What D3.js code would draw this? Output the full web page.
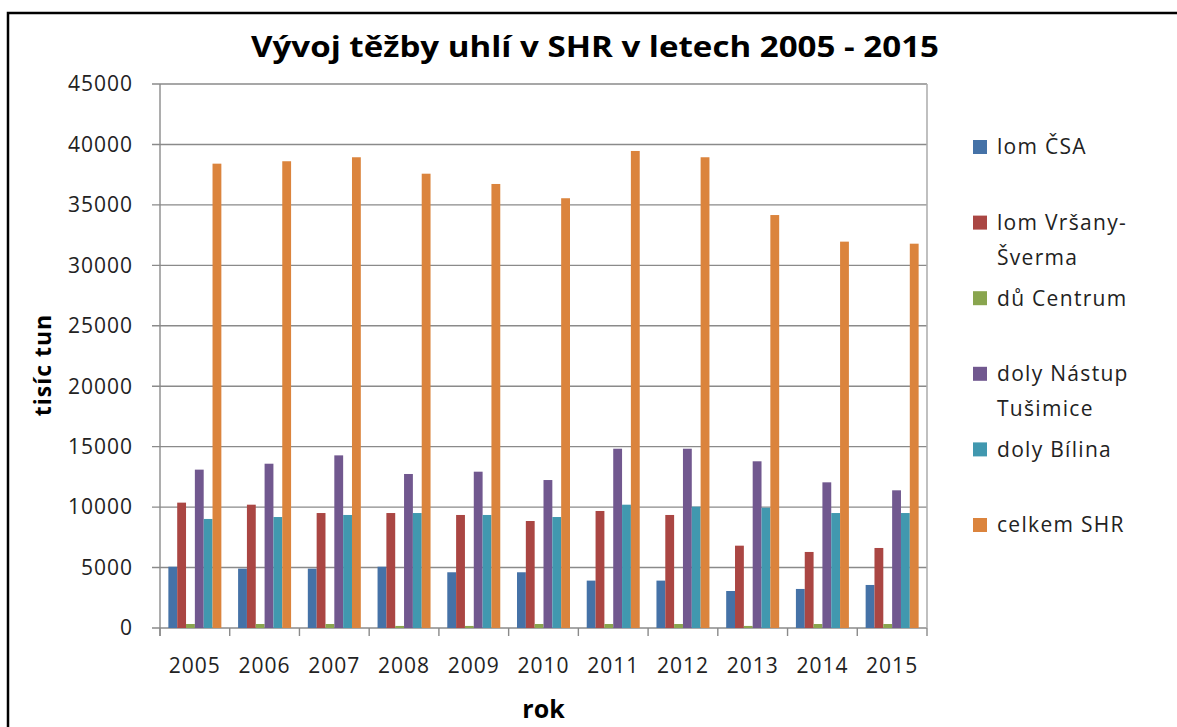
<html lang="cs">
<head>
    <meta charset="UTF-8">
    <title>Vývoj těžby uhlí v SHR</title>
    <script type="text/javascript" src="https://unpkg.com/d3@7/dist/d3.min.js"></script>
    <style>
        body{
            margin:0;
            padding:0;
            background:#fff;
        }
        text {
            font-family: "Open Sans", sans-serif;
            fill: #222;
        }
    </style>
</head>
<body>
<svg width=1177 height=727></svg>

<script>

// data (tisíc tun)
var years = ['2005','2006','2007','2008','2009','2010','2011','2012','2013','2014','2015']
var lomCSA     = [5070, 4910, 4910, 5070, 4610, 4610, 3920, 3920, 3060, 3230, 3560]
var lomVrsany  = [10370, 10200, 9510, 9510, 9350, 8850, 9680, 9350, 6810, 6290, 6620]
var duCentrum  = [330, 330, 330, 170, 170, 330, 330, 330, 170, 330, 330]
var dolyNastup = [13100, 13590, 14280, 12740, 12930, 12240, 14830, 14830, 13790, 12050, 11390]
var dolyBilina = [9020, 9180, 9350, 9510, 9350, 9180, 10200, 10040, 9950, 9510, 9510]
var celkemSHR  = [38410, 38610, 38940, 37580, 36730, 35550, 39460, 38940, 34160, 31960, 31790]

var seriesNames = ['lom ČSA', 'lom Vršany-Šverma', 'dů Centrum', 'doly Nástup Tušimice', 'doly Bílina', 'celkem SHR']
var legendLines = [['lom ČSA'], ['lom Vršany-', 'Šverma'], ['dů Centrum'], ['doly Nástup', 'Tušimice'], ['doly Bílina'], ['celkem SHR']]
var seriesValues = [lomCSA, lomVrsany, duCentrum, dolyNastup, dolyBilina, celkemSHR]
var colors = ['#4572A7', '#AA4643', '#89A54E', '#71588F', '#4198AF', '#DB843D']
var yTicks = [0, 5000, 10000, 15000, 20000, 25000, 30000, 35000, 40000, 45000]

var pLeft = 160, pRight = 927, pTop = 84, pBottom = 628

var svg = d3.select('svg')

// outer frame
svg.append('path')
    .attr('d', 'M8,727V13H1177')
    .attr('fill', 'none')
    .attr('stroke', '#000')
    .attr('stroke-width', 2.5)

var x = d3.scaleBand().domain(years).range([pLeft, pRight]).paddingInner(0.24).paddingOuter(0.12)
var xs = d3.scaleBand().domain(seriesNames).range([0, x.bandwidth()])
var y = d3.scaleLinear().domain([0, 45000]).range([pBottom, pTop])

// gridlines
svg.append('g')
    .selectAll('line')
    .data(yTicks)
    .enter()
    .append('line')
    .attr('x1', pLeft - 8)
    .attr('x2', pRight)
    .attr('y1', d => y(d))
    .attr('y2', d => y(d))
    .attr('stroke', '#8a8a8a')
    .attr('stroke-width', 1.4)

// plot frame right + left axis
svg.append('line').attr('x1', pRight).attr('x2', pRight).attr('y1', pTop).attr('y2', pBottom)
    .attr('stroke', '#b0b0b0').attr('stroke-width', 1.6)
svg.append('line').attr('x1', pLeft).attr('x2', pLeft).attr('y1', pTop).attr('y2', pBottom + 8)
    .attr('stroke', '#8a8a8a').attr('stroke-width', 1.4)

// y labels
svg.append('g')
    .selectAll('text')
    .data(yTicks)
    .enter()
    .append('text')
    .attr('x', 133)
    .attr('y', d => y(d))
    .attr('dy', '0.35em')
    .style('text-anchor', 'end')
    .style('font-size', '21px')
    .style('letter-spacing', '1px')
    .text(d => d)

// x ticks at band edges
svg.append('g')
    .selectAll('line')
    .data(d3.range(years.length + 1))
    .enter()
    .append('line')
    .attr('x1', i => pLeft + i * (pRight - pLeft) / years.length)
    .attr('x2', i => pLeft + i * (pRight - pLeft) / years.length)
    .attr('y1', pBottom)
    .attr('y2', pBottom + 8)
    .attr('stroke', '#8a8a8a')
    .attr('stroke-width', 1.4)

svg.append('g')
    .selectAll('text')
    .data(years)
    .enter()
    .append('text')
    .attr('x', d => x(d) + x.bandwidth() / 2)
    .attr('y', 673)
    .style('text-anchor', 'middle')
    .style('font-size', '21px')
    .style('letter-spacing', '1px')
    .text(d => d)

// bars
svg.append('g')
    .selectAll('g')
    .data(years)
    .enter()
    .append('g')
    .attr('transform', d => 'translate(' + x(d) + ',0)')
    .each(function (yr, i) {
        d3.select(this)
            .selectAll('rect')
            .data(seriesNames)
            .enter()
            .append('rect')
            .attr('x', s => xs(s))
            .attr('width', xs.bandwidth())
            .attr('y', (s, k) => y(seriesValues[k][i]))
            .attr('height', (s, k) => pBottom - y(seriesValues[k][i]))
            .attr('fill', (s, k) => colors[k])
    })

// title and axis names
svg.append('text')
    .attr('x', 595)
    .attr('y', 57)
    .attr('textLength', 688)
    .attr('lengthAdjust', 'spacingAndGlyphs')
    .style('text-anchor', 'middle')
    .style('font-size', '29px')
    .style('font-weight', 'bold')
    .style('fill', '#000')
    .text('Vývoj těžby uhlí v SHR v letech 2005 - 2015')

svg.append('text')
    .attr('transform', 'translate(51,365) rotate(-90)')
    .style('text-anchor', 'middle')
    .style('font-size', '23px')
    .style('font-weight', 'bold')
    .style('letter-spacing', '1px')
    .style('fill', '#000')
    .text('tisíc tun')

svg.append('text')
    .attr('x', (pLeft + pRight) / 2)
    .attr('y', 718)
    .style('text-anchor', 'middle')
    .style('font-size', '25px')
    .style('font-weight', 'bold')
    .style('fill', '#000')
    .text('rok')

// legend
var ly = d3.scaleLinear().domain([0, 5]).range([147, 525])
var lg = svg.append('g')
    .selectAll('g')
    .data(legendLines)
    .enter()
    .append('g')
    .attr('transform', (d, i) => 'translate(973,' + ly(i) + ')')
lg.append('rect')
    .attr('x', 0)
    .attr('y', -7)
    .attr('width', 14)
    .attr('height', 14)
    .attr('fill', (d, i) => colors[i])
lg.each(function (lines) {
    d3.select(this)
        .selectAll('text')
        .data(lines)
        .enter()
        .append('text')
        .attr('x', 24)
        .attr('y', (t, j) => j * 35)
        .attr('dy', '0.35em')
        .style('font-size', '21px')
        .style('letter-spacing', '1.3px')
        .text(t => t)
})

</script>
</body>
</html>
